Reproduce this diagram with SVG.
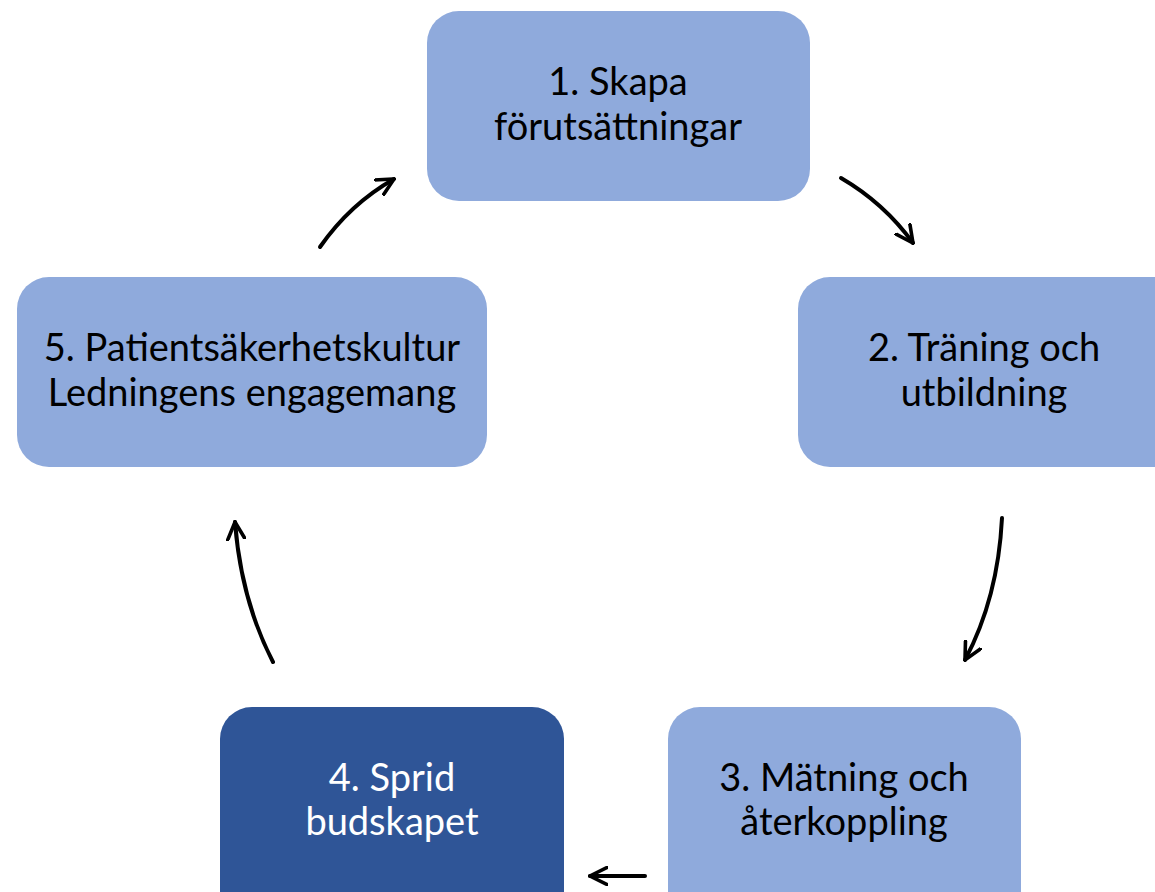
<svg xmlns="http://www.w3.org/2000/svg" width="1155" height="892" viewBox="0 0 1155 892">
<defs>
<style>
.box{fill:#8FAADC;}
.dark{fill:#2F5597;}
.t{font-family:Lato,"Open Sans",sans-serif;font-size:38px;fill:#000;text-anchor:middle;}
.tw{fill:#fff;}
.c{fill:none;stroke:#000;stroke-width:4;stroke-linecap:round;}
</style>
<marker id="ah" viewBox="0 0 10 10" refX="9" refY="5" markerWidth="5" markerHeight="5" markerUnits="strokeWidth" orient="auto">
<path d="M0,0.5 L9,5 L0,9.5" fill="none" stroke="#000" stroke-width="1.8" stroke-linecap="round" stroke-linejoin="miter"/>
</marker>
</defs>
<rect width="1155" height="892" fill="#fff"/>
<g id="n1"><rect class="box" x="427" y="11" width="383" height="190" rx="32"/>
<text class="t" x="618" y="95">1. Skapa</text><text class="t" x="618" y="140">förutsättningar</text></g>
<g id="n2"><rect class="box" x="798" y="277" width="400" height="190" rx="32"/>
<text class="t" x="984" y="361">2. Träning och</text><text class="t" x="984" y="406">utbildning</text></g>
<g id="n3"><rect class="box" x="668" y="707" width="353" height="220" rx="32"/>
<text class="t" x="844" y="791">3. Mätning och</text><text class="t" x="844" y="835">återkoppling</text></g>
<g id="n4"><rect class="dark" x="220" y="707" width="344" height="220" rx="32"/>
<text class="t tw" x="392" y="791">4. Sprid</text><text class="t tw" x="392" y="835">budskapet</text></g>
<g id="n5"><rect class="box" x="17" y="277" width="470" height="190" rx="32"/>
<text class="t" x="252" y="361">5. Patientsäkerhetskultur</text><text class="t" x="252" y="406">Ledningens engagemang</text></g>
<g id="connectors">
<path class="c" marker-end="url(#ah)" d="M320,247 Q350,204 394,179"/>
<path class="c" marker-end="url(#ah)" d="M841,178 Q884,203 913,243"/>
<path class="c" marker-end="url(#ah)" d="M1002,518 Q998,598 965,660"/>
<path class="c" marker-end="url(#ah)" d="M645,876 L590,876"/>
<path class="c" marker-end="url(#ah)" d="M273,662 Q241,600 235,522"/>
</g>
</svg>
